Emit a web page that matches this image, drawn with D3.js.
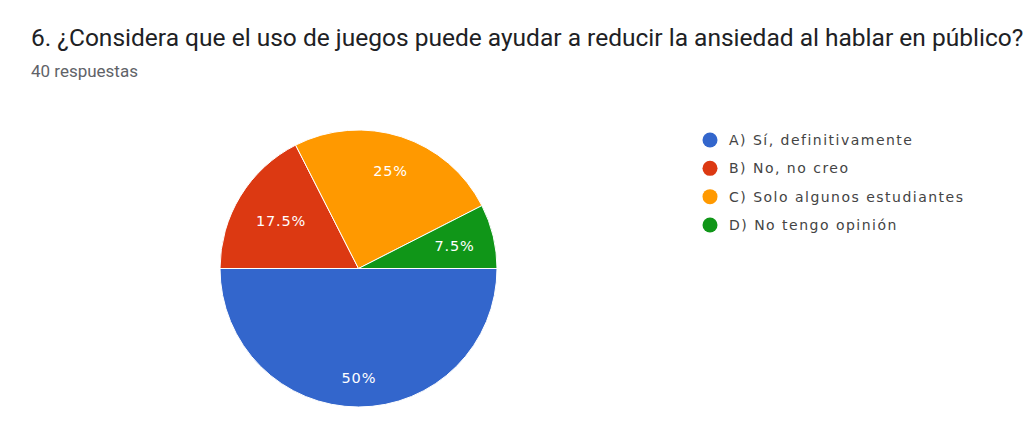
<!DOCTYPE html>
<html>
<head>
<meta charset="utf-8">
<script src="https://cdn.jsdelivr.net/npm/d3@7"></script>
<style>
  html, body { margin: 0; padding: 0; background: #fff; }
  svg { display: block; }
</style>
</head>
<body>
<svg id="chart" width="1029" height="421"></svg>
<script>
const titleText = "6. ¿Considera que el uso de juegos puede ayudar a reducir la ansiedad al hablar en público?";
const subtitleText = "40 respuestas";
const categories = ["A) Sí, definitivamente", "B) No, no creo", "C) Solo algunos estudiantes", "D) No tengo opinión"];
const values = [50, 17.5, 25, 7.5];
const valueLabels = ["50%", "17.5%", "25%", "7.5%"];
const colors = ["#3366cc", "#dc3912", "#ff9900", "#109618"];

// layout constants (label distance from centre, as fraction of radius)
const labelRadiusFactor = [0.79, 0.66, 0.74, 0.71];

const svg = d3.select("#chart");
const font = "Roboto, 'Noto Sans', Arial, sans-serif";
const wideFont = "'DejaVu Sans', Arial, sans-serif";

// Title
const title = svg.append("text")
  .attr("x", 31).attr("y", 46)
  .attr("font-family", font)
  .attr("font-size", 19)
  .attr("fill", "#202124")
  .text(titleText);
const tw = title.node().getComputedTextLength();
title.attr("font-size", 19 * 993 / tw);

const sub = svg.append("text")
  .attr("x", 31).attr("y", 77)
  .attr("font-family", font)
  .attr("font-size", 12)
  .attr("fill", "#5f6368")
  .text(subtitleText);
const sw = sub.node().getComputedTextLength();
sub.attr("font-size", 12 * 107 / sw);

// Pie
const cx = 358.5, cy = 268.5, r = 138.5;
const pie = d3.pie().sort(null).value(d => d)
  .startAngle(Math.PI / 2).endAngle(Math.PI / 2 + 2 * Math.PI);
const arcs = pie(values);
const arc = d3.arc().innerRadius(0).outerRadius(r);

const g = svg.append("g").attr("transform", `translate(${cx},${cy})`);
g.selectAll("path").data(arcs).join("path")
  .attr("d", arc)
  .attr("fill", (d, i) => colors[i])
  .attr("stroke", "#fff")
  .attr("stroke-width", 1);

const lbls = g.selectAll("text.lbl").data(arcs).join("text")
  .attr("class", "lbl")
  .attr("transform", (d, i) => {
    const rr = r * labelRadiusFactor[i];
    return `translate(${d3.arc().innerRadius(rr).outerRadius(rr).centroid(d)})`;
  })
  .attr("text-anchor", "middle")
  .attr("dy", "0.36em")
  .attr("font-family", wideFont)
  .attr("font-size", 14.5)
  .attr("fill", "#fff")
  .text((d, i) => valueLabels[i]);
{
  const n = lbls.filter((d, i) => i === 1).node();
  const w = n.getComputedTextLength();
  const ls = Math.max(0, (50 - w) / (valueLabels[1].length));
  lbls.attr("letter-spacing", ls).attr("dx", ls / 2);
}

// Legend
const legend = svg.append("g");
const ly = d3.scalePoint().domain(categories).range([140, 225]);
const items = legend.selectAll("g").data(categories).join("g")
  .attr("transform", d => `translate(710,${ly(d)})`);
items.append("circle").attr("r", 7.5).attr("fill", (d, i) => colors[i]);
const ltxt = items.append("text")
  .attr("x", 19).attr("dy", "0.36em")
  .attr("font-family", wideFont)
  .attr("font-size", 14)
  .attr("fill", "#444")
  .text(d => d);
{
  const n = ltxt.filter((d, i) => i === 2).node();
  const w = n.getComputedTextLength();
  const ls = (234 - w) / (categories[2].length - 1);
  ltxt.attr("letter-spacing", ls);
}
</script>
</body>
</html>
